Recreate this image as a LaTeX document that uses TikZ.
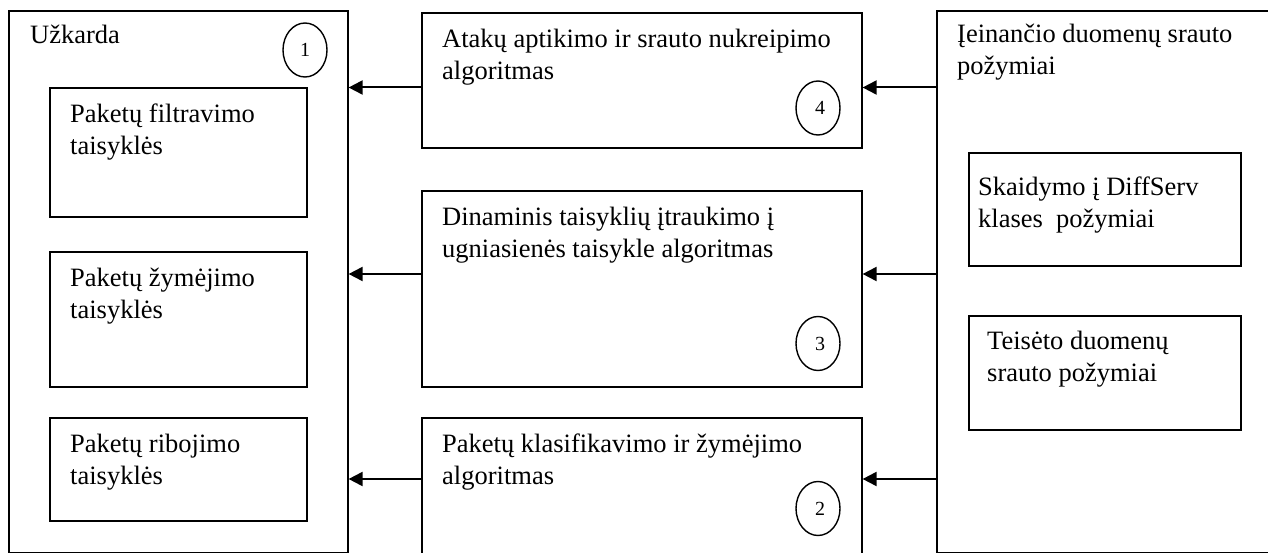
\documentclass[tikz,border=0pt]{standalone}
\usepackage{fontspec}
\setmainfont{Liberation Serif}
\usetikzlibrary{arrows.meta,shapes.geometric}
\begin{document}
\begin{tikzpicture}[x=1pt,y=-1pt,
  box/.style={draw, line width=1.6pt, inner sep=0pt, anchor=north west},
  % multi-line labels: the base anchor sits on the last line
  txt/.style={anchor=base west, inner sep=0pt, align=left,
              font=\fontsize{26.5}{32}\selectfont},
  num/.style={draw, ellipse, line width=1.4pt, inner sep=0pt,
              minimum width=44pt, minimum height=54pt,
              font=\fontsize{20}{20}\selectfont},
  arr/.style={line width=2pt, -{Triangle[length=14pt,width=14pt]}}]
\useasboundingbox (0,0) rectangle (1268,553);
\clip (0,0) rectangle (1268,553);

% firewall block with its rule sets
\node[box, minimum width=339pt, minimum height=542pt] (fw) at (8,10) {};
\node[box, minimum width=257pt, minimum height=128.5pt] (f1) at (49,87.5) {};
\node[box, minimum width=257pt, minimum height=134.5pt] (f2) at (49,251.5) {};
\node[box, minimum width=257pt, minimum height=103pt] (f3) at (49,417) {};
\node[txt] (tfw) at (30,44) {Užkarda};
\node[txt] (tf1) at (70,155) {Paketų filtravimo\\taisyklės};
\node[txt] (tf2) at (70,318) {Paketų žymėjimo\\taisyklės};
\node[txt] (tf3) at (70,484) {Paketų ribojimo\\taisyklės};
\node[num] (c1) at (305,50) {1};

% algorithm blocks
\node[box, minimum width=440pt, minimum height=135pt] (m4) at (421,12) {};
\node[box, minimum width=440pt, minimum height=196pt] (m3) at (421,190) {};
\node[box, minimum width=440pt, minimum height=160pt] (m2) at (421,417) {};
\node[txt] (tm4) at (442,80) {Atakų aptikimo ir srauto nukreipimo\\algoritmas};
\node[txt] (tm3) at (442,258) {Dinaminis taisyklių įtraukimo į\\ugniasienės taisykle algoritmas};
\node[txt] (tm2) at (442,484) {Paketų klasifikavimo ir žymėjimo\\algoritmas};
\node[num] (c4) at (818,108) {\hspace*{4pt}4};
\node[num] (c3) at (818,343.5) {\hspace*{4pt}3};
\node[num] (c2) at (818,508.5) {\hspace*{4pt}2};

% incoming traffic features
\node[box, minimum width=360pt, minimum height=542pt] (src) at (936,10) {};
\node[box, minimum width=272pt, minimum height=113pt] (s1) at (968,152) {};
\node[box, minimum width=272pt, minimum height=114pt] (s2) at (968,315) {};
\node[txt] (tsrc) at (957,75) {Įeinančio duomenų srauto\\požymiai};
\node[txt] (ts1) at (978,228) {Skaidymo į DiffServ\\klases\ \ požymiai};
\node[txt] (ts2) at (987,381) {Teisėto duomenų\\srauto požymiai};

% data flow
\draw[arr] (src.west |- 0,87.5) -- (m4.east |- 0,87.5);
\draw[arr] (src.west |- 0,274) -- (m3.east |- 0,274);
\draw[arr] (src.west |- 0,479) -- (m2.east |- 0,479);
\draw[arr] (m4.west |- 0,87.5) -- (fw.east |- 0,87.5);
\draw[arr] (m3.west |- 0,274) -- (fw.east |- 0,274);
\draw[arr] (m2.west |- 0,479) -- (fw.east |- 0,479);
\end{tikzpicture}
\end{document}
